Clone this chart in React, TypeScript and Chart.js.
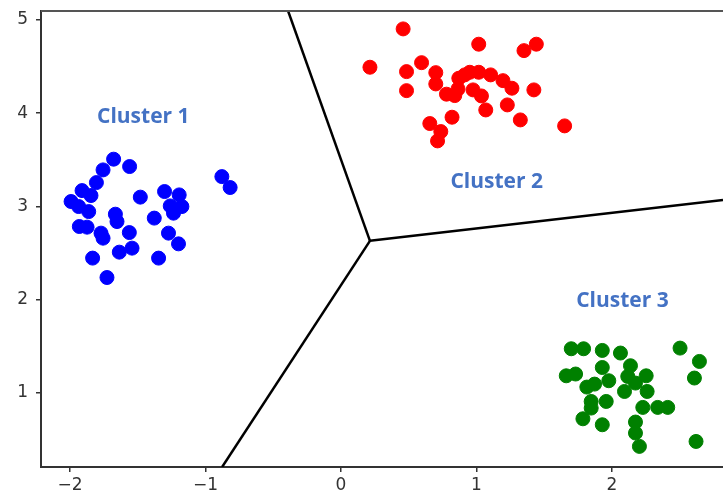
import React, { useEffect, useRef } from "react";
import { Chart, registerables } from "chart.js";

Chart.register(...registerables);

const cluster1: [number, number][] = [
  [-1.678, 3.507], [-1.56, 3.428], [-1.756, 3.392], [-1.805, 3.256], [-1.911, 3.17],
  [-1.845, 3.117], [-1.992, 3.053], [-1.936, 2.999], [-1.862, 2.945], [-1.481, 3.1],
  [-1.302, 3.16], [-1.194, 3.124], [-1.26, 3.006], [-1.174, 2.999], [-1.236, 2.928],
  [-0.879, 3.32], [-0.818, 3.203], [-1.665, 2.917], [-1.653, 2.838], [-1.378, 2.875],
  [-1.931, 2.785], [-1.874, 2.778], [-1.771, 2.714], [-1.756, 2.66], [-1.562, 2.72],
  [-1.273, 2.714], [-1.199, 2.599], [-1.542, 2.553], [-1.636, 2.51], [-1.833, 2.446],
  [-1.346, 2.446], [-1.727, 2.238],
];

const cluster2: [number, number][] = [
  [0.459, 4.904], [1.017, 4.74], [1.442, 4.74], [1.351, 4.671], [0.214, 4.493],
  [0.595, 4.542], [0.484, 4.446], [0.7, 4.435], [0.484, 4.242], [0.7, 4.314],
  [0.87, 4.375], [0.951, 4.439], [1.017, 4.439], [1.105, 4.411], [1.196, 4.349],
  [1.262, 4.268], [1.424, 4.25], [0.779, 4.204], [0.84, 4.189], [0.864, 4.26],
  [0.975, 4.25], [1.037, 4.185], [1.069, 4.035], [1.228, 4.089], [0.82, 3.957],
  [1.324, 3.928], [0.656, 3.889], [0.737, 3.803], [0.713, 3.703], [1.651, 3.864],
  [0.914, 4.411],
];

const cluster3: [number, number][] = [
  [1.7, 1.474], [1.791, 1.474], [1.929, 1.456], [2.063, 1.428], [2.503, 1.481],
  [2.646, 1.338], [1.929, 1.273], [2.137, 1.292], [1.663, 1.184], [1.732, 1.203],
  [2.609, 1.16], [1.977, 1.131], [2.117, 1.177], [2.253, 1.184], [1.815, 1.063],
  [1.872, 1.095], [2.174, 1.106], [2.093, 1.016], [2.26, 1.016], [1.847, 0.909],
  [1.958, 0.909], [2.228, 0.845], [2.338, 0.845], [2.412, 0.845], [1.847, 0.838],
  [1.786, 0.723], [1.929, 0.659], [2.174, 0.688], [2.174, 0.57], [2.203, 0.427],
  [2.621, 0.48],
];

const voronoiVertex: [number, number] = [0.214, 2.631];
const voronoiEnds: [number, number][] = [
  [-0.39, 5.096],
  [2.82, 3.07],
  [-0.877, 0.206],
];

const clusterLabels = ["Cluster 1", "Cluster 2", "Cluster 3"];
const clusterLabelPos: [number, number][] = [
  [-1.459, 3.96],
  [1.15, 3.264],
  [2.078, 1.988],
];

const xTicks = [-2, -1, 0, 1, 2];
const yTicks = [1, 2, 3, 4, 5];

const X_MIN = -2.214;
const X_MAX = 2.82;
const Y_MIN = 0.206;
const Y_MAX = 5.096;

const AXIS_COLOR = "#333333";
const TICK_FONT = { family: "'DejaVu Sans', sans-serif", size: 17 };

export default function App() {
  const ref = useRef<HTMLCanvasElement | null>(null);

  useEffect(() => {
    if (!ref.current) return;
    const toPts = (arr: [number, number][]) => arr.map(([x, y]) => ({ x, y }));
    const pointStyle = (color: string) => ({
      backgroundColor: color,
      borderColor: color,
      pointRadius: 7,
      pointHoverRadius: 7,
      borderWidth: 1,
    });

    const lineSets = voronoiEnds.map((end) => ({
      type: "line" as const,
      data: toPts([voronoiVertex, end]),
      borderColor: "#000000",
      borderWidth: 2.5,
      pointRadius: 0,
      showLine: true,
      fill: false,
      tension: 0,
    }));

    const overlay = {
      id: "overlay",
      afterDraw(chart: any) {
        const { ctx, chartArea, scales } = chart;
        ctx.save();
        ctx.strokeStyle = "#555555";
        ctx.lineWidth = 2;
        ctx.beginPath();
        ctx.moveTo(chartArea.left, chartArea.top);
        ctx.lineTo(chartArea.right, chartArea.top);
        ctx.stroke();

        ctx.fillStyle = "#4472C4";
        ctx.font = "bold 21px 'Open Sans', sans-serif";
        ctx.textAlign = "center";
        ctx.textBaseline = "middle";
        clusterLabels.forEach((t, i) => {
          const [x, y] = clusterLabelPos[i];
          ctx.fillText(t, scales.x.getPixelForValue(x), scales.y.getPixelForValue(y));
        });
        ctx.restore();
      },
    };

    const zeroPad = (s: any) => {
      s.paddingTop = 0;
      s.paddingBottom = 0;
      s.paddingLeft = 0;
      s.paddingRight = 0;
    };

    const chart = new Chart(ref.current, {
      type: "scatter",
      data: {
        datasets: [
          { label: "Cluster 1", data: toPts(cluster1), ...pointStyle("#0000ff") },
          { label: "Cluster 2", data: toPts(cluster2), ...pointStyle("#ff0000") },
          { label: "Cluster 3", data: toPts(cluster3), ...pointStyle("#008000") },
          ...lineSets,
        ] as any,
      },
      options: {
        animation: false,
        responsive: false,
        devicePixelRatio: 1,
        layout: { autoPadding: false, padding: { top: 11, left: 0, right: 0, bottom: 0 } },
        plugins: {
          legend: { display: false },
          tooltip: { enabled: false },
        },
        scales: {
          x: {
            type: "linear",
            min: X_MIN,
            max: X_MAX,
            afterBuildTicks: (s: any) => {
              s.ticks = xTicks.map((v) => ({ value: v }));
            },
            afterFit: (s: any) => {
              s.height = 34;
              zeroPad(s);
            },
            grid: {
              display: true,
              drawOnChartArea: false,
              drawTicks: true,
              tickLength: 5,
              color: AXIS_COLOR,
              lineWidth: 1.5,
            },
            border: { display: true, color: AXIS_COLOR, width: 2 },
            ticks: {
              font: TICK_FONT,
              color: AXIS_COLOR,
              padding: 3,
              maxRotation: 0,
              callback: (v: any) => (Number(v) < 0 ? "\u2212" + Math.abs(Number(v)) : String(v)),
            },
          },
          y: {
            type: "linear",
            min: Y_MIN,
            max: Y_MAX,
            afterBuildTicks: (s: any) => {
              s.ticks = yTicks.map((v) => ({ value: v }));
            },
            afterFit: (s: any) => {
              s.width = 41;
              zeroPad(s);
            },
            grid: {
              display: true,
              drawOnChartArea: false,
              drawTicks: true,
              tickLength: 5,
              color: AXIS_COLOR,
              lineWidth: 1.5,
            },
            border: { display: true, color: AXIS_COLOR, width: 2 },
            ticks: {
              font: TICK_FONT,
              color: AXIS_COLOR,
              padding: 8,
              callback: (v: any) => String(v),
            },
          },
        },
      },
      plugins: [overlay],
    });
    return () => chart.destroy();
  }, []);

  return (
    <div style={{ position: "fixed", left: 0, top: 0, width: 723, height: 501, background: "#ffffff" }}>
      <canvas ref={ref} width={723} height={501} style={{ display: "block" }} />
    </div>
  );
}
